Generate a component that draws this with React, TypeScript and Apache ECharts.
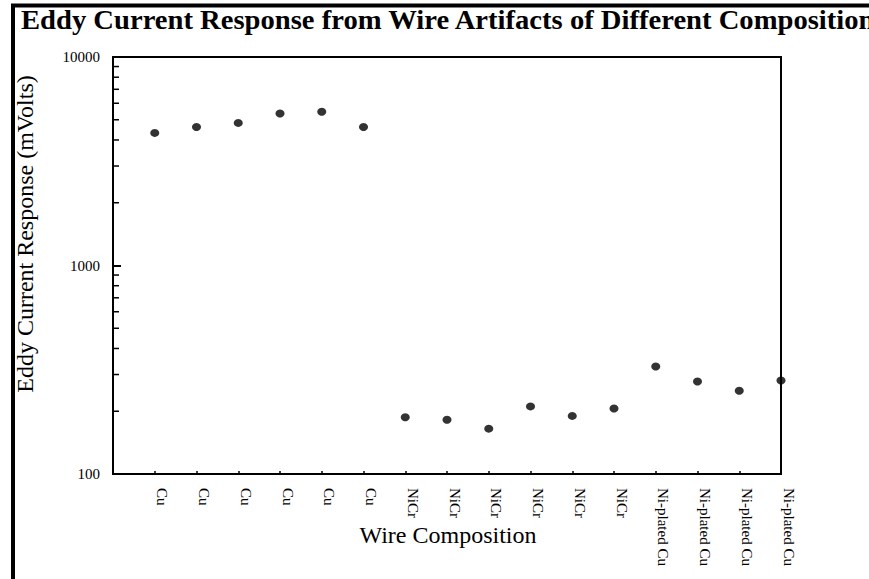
import React, { useEffect, useRef } from "react";
import * as echarts from "echarts";

const titleText = "Eddy Current Response from Wire Artifacts of Different Composition";
const yAxisTitle = "Eddy Current Response (mVolts)";
const xAxisTitle = "Wire Composition";

const categories = [
  "Cu", "Cu", "Cu", "Cu", "Cu", "Cu",
  "NiCr", "NiCr", "NiCr", "NiCr", "NiCr", "NiCr",
  "Ni-plated Cu", "Ni-plated Cu", "Ni-plated Cu", "Ni-plated Cu",
];
const responses = [
  4325, 4620, 4830, 5360, 5460, 4620,
  187, 182, 165, 211, 190, 206,
  328, 278, 251, 281,
];
const yTickValues = [100, 1000, 10000];
const minorTickValues = [200, 300, 400, 500, 600, 700, 800, 900, 2000, 3000, 4000, 5000, 6000, 7000, 8000, 9000];

const SERIF = "'Liberation Serif', 'Times New Roman', serif";

export default function App() {
  const ref = useRef<HTMLDivElement>(null);
  useEffect(() => {
    if (!ref.current) return;
    const chart = echarts.init(ref.current, undefined, { renderer: "svg" });
    const points = responses.map((v, i) => [i + 1, v]);
    chart.setOption({
      animation: false,
      backgroundColor: "#ffffff",
      grid: {
        left: 113,
        right: 88,
        top: 57,
        bottom: 105,
        show: true,
        borderColor: "#000",
        borderWidth: 2,
        containLabel: false,
      },
      xAxis: {
        type: "value",
        min: 0,
        max: categories.length,
        interval: 1,
        splitLine: { show: false },
        axisLine: { show: true, lineStyle: { color: "#000", width: 2 } },
        axisTick: { show: true, inside: true, length: 3, lineStyle: { color: "#000", width: 1.5 } },
        axisLabel: {
          rotate: -90,
          margin: 14,
          verticalAlign: "bottom",
          fontFamily: SERIF,
          fontSize: 15,
          color: "#000",
          showMinLabel: false,
          formatter: (v: number) => categories[Math.round(v) - 1] ?? "",
        },
      },
      yAxis: {
        type: "log",
        logBase: 10,
        min: yTickValues[0],
        max: yTickValues[yTickValues.length - 1],
        splitLine: { show: false },
        axisLine: { show: true, lineStyle: { color: "#000", width: 2 } },
        axisTick: { show: true, inside: true, length: 8, lineStyle: { color: "#000", width: 2 } },
        axisLabel: {
          margin: 13,
          fontFamily: SERIF,
          fontSize: 15,
          color: "#000",
          formatter: (v: number) => String(Math.round(v)),
        },
      },
      series: [
        {
          type: "custom",
          coordinateSystem: "cartesian2d",
          silent: true,
          clip: false,
          z: 10,
          encode: { x: 0, y: 1 },
          data: minorTickValues.map((v) => [0, v]),
          renderItem: (_params: any, api: any) => {
            const p = api.coord([0, api.value(1)]);
            return {
              type: "line",
              shape: { x1: p[0], y1: p[1], x2: p[0] + 6, y2: p[1] },
              style: { stroke: "#000", lineWidth: 1.5, fill: null },
            };
          },
        },
        {
          type: "scatter",
          data: points,
          symbol: "circle",
          symbolSize: [9, 8],
          clip: false,
          itemStyle: { color: "#000" },
        },
      ],
      graphic: [
        {
          type: "rect",
          shape: { x: 13, y: 5.5, width: 1200, height: 1000 },
          style: { fill: "none", stroke: "#000", lineWidth: 4 },
          silent: true,
        },
        {
          type: "text",
          x: 21,
          y: 19.5,
          scaleX: 1.06,
          style: {
            text: titleText,
            font: `bold 27px ${SERIF}`,
            fill: "#000",
            textAlign: "left",
            textVerticalAlign: "middle",
          },
        },
        {
          type: "text",
          x: 25,
          y: 234,
          rotation: Math.PI / 2,
          style: {
            text: yAxisTitle,
            font: `24px ${SERIF}`,
            fill: "#000",
            textAlign: "center",
            textVerticalAlign: "middle",
          },
        },
        {
          type: "text",
          x: 448,
          y: 535,
          style: {
            text: xAxisTitle,
            font: `24px ${SERIF}`,
            fill: "#000",
            textAlign: "center",
            textVerticalAlign: "middle",
          },
        },
      ],
    });
    return () => chart.dispose();
  }, []);
  return (
    <div
      ref={ref}
      style={{ position: "absolute", left: 0, top: 0, width: 869, height: 579 }}
    />
  );
}
